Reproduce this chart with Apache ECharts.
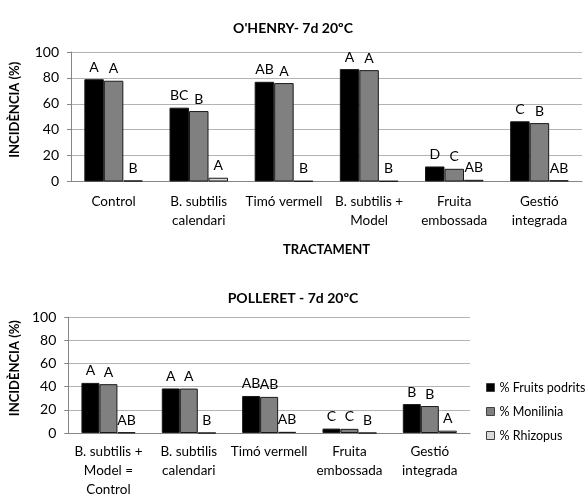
<!DOCTYPE html>
<html><head><meta charset="utf-8">
<script src="https://cdn.jsdelivr.net/npm/echarts@6/dist/echarts.min.js"></script>
<style>html,body{margin:0;padding:0;background:#fff}#c{width:586px;height:499px}</style>
</head><body><div id="c"></div>
<script>
const seriesNames = ['% Fruits podrits', '% Monilinia', '% Rhizopus'];
const colors = ['#000000', '#808080', '#d9d9d9'];
const yTicks = [0, 20, 40, 60, 80, 100];

const topTitle = "O'HENRY- 7d 20ºC";
const topCategories = ['Control', 'B. subtilis\ncalendari', 'Timó vermell', 'B. subtilis +\nModel', 'Fruita\nembossada', 'Gestió\nintegrada'];
const topFruits = [79, 57, 77, 86.8, 11.6, 46.5];
const topMonilinia = [77.8, 54.4, 76, 86, 9.8, 45.1];
const topRhizopus = [0.8, 2.9, 0.4, 0.4, 1.3, 1];
const topFruitsLetters = ['A', 'BC', 'AB', 'A', 'D', 'C'];
const topMoniliniaLetters = ['A', 'B', 'A', 'A', 'C', 'B'];
const topRhizopusLetters = ['B', 'A', 'B', 'B', 'AB', 'AB'];

const botTitle = 'POLLERET - 7d 20ºC';
const botCategories = ['B. subtilis +\nModel =\nControl', 'B. subtilis\ncalendari', 'Timó vermell', 'Fruita\nembossada', 'Gestió\nintegrada'];
const botFruits = [43.3, 38.5, 32, 3.8, 25];
const botMonilinia = [42.2, 38.4, 31.2, 3.6, 23.3];
const botRhizopus = [0.5, 0, 1, 0, 2];
const botFruitsLetters = ['A', 'A', 'AB', 'C', 'B'];
const botMoniliniaLetters = ['A', 'A', 'AB', 'C', 'B'];
const botRhizopusLetters = ['AB', 'B', 'AB', 'B', 'A'];

const FONT = 'Lato';
const chart = echarts.init(document.getElementById('c'));

function yAxis(gridIndex, gap) {
  return {
    gridIndex, type: 'value', min: yTicks[0], max: yTicks[yTicks.length - 1], interval: 20,
    name: 'INCIDÈNCIA (%)', nameLocation: 'middle', nameGap: gap,
    nameTextStyle: { fontFamily: FONT, fontWeight: 'bold', fontSize: 13, color: '#000', padding: [0, 0, 0, 14] },
    axisLine: { show: true, lineStyle: { color: '#868686', width: 1 } },
    axisTick: { show: true, length: 4, lineStyle: { color: '#868686' } },
    axisLabel: { fontFamily: FONT, fontSize: 14, color: '#000', margin: 12 },
    splitLine: { show: true, lineStyle: { color: '#b3b3b3', width: 1 } }
  };
}
function xAxis(gridIndex, cats, name, margin) {
  return {
    gridIndex, type: 'category', data: cats,
    name: name, nameLocation: 'middle', nameGap: 62,
    nameTextStyle: { fontFamily: FONT, fontWeight: 'bold', fontSize: 13, color: '#000' },
    axisLine: { show: true, lineStyle: { color: '#868686', width: 1 } },
    axisTick: { show: false },
    axisLabel: { fontFamily: FONT, fontSize: 13.5, color: '#000', margin: margin, lineHeight: 19, interval: 0 }
  };
}
function bars(idx, name, values, letters, color, width) {
  return {
    type: 'bar', name: name, xAxisIndex: idx, yAxisIndex: idx,
    data: values, barWidth: width, barGap: '0%',
    itemStyle: { color: color, borderColor: '#1a1a1a', borderWidth: 1 },
    label: {
      show: true, position: 'top', distance: 5,
      fontFamily: FONT, fontSize: 14, color: '#000',
      formatter: p => letters[p.dataIndex]
    },
    animation: false
  };
}

chart.setOption({
  animation: false,
  title: [
    { text: topTitle, left: 'center', top: 16, textStyle: { fontFamily: FONT, fontWeight: 'bold', fontSize: 14, color: '#000' } },
    { text: botTitle, left: 'center', top: 286, textStyle: { fontFamily: FONT, fontWeight: 'bold', fontSize: 14, color: '#000' } }
  ],
  grid: [
    { left: 70, right: 4, top: 52, height: 129.5 },
    { left: 64, right: 116, top: 317.3, height: 122.7 }
  ],
  legend: {
    orient: 'vertical', left: 481, top: 376, itemWidth: 8, itemHeight: 8, itemGap: 11,
    icon: 'rect',
    data: seriesNames,
    itemStyle: { borderColor: '#404040', borderWidth: 1 },
    textStyle: { fontFamily: FONT, fontSize: 12.5, color: '#000' }
  },
  xAxis: [
    xAxis(0, topCategories, 'TRACTAMENT', 11),
    xAxis(1, botCategories, '', 9)
  ],
  yAxis: [yAxis(0, 50), yAxis(1, 44)],
  series: [
    bars(0, seriesNames[0], topFruits, topFruitsLetters, colors[0], 19.5),
    bars(0, seriesNames[1], topMonilinia, topMoniliniaLetters, colors[1], 19.5),
    bars(0, seriesNames[2], topRhizopus, topRhizopusLetters, colors[2], 19.5),
    bars(1, seriesNames[0], botFruits, botFruitsLetters, colors[0], 18),
    bars(1, seriesNames[1], botMonilinia, botMoniliniaLetters, colors[1], 18),
    bars(1, seriesNames[2], botRhizopus, botRhizopusLetters, colors[2], 18)
  ]
});
</script></body></html>
